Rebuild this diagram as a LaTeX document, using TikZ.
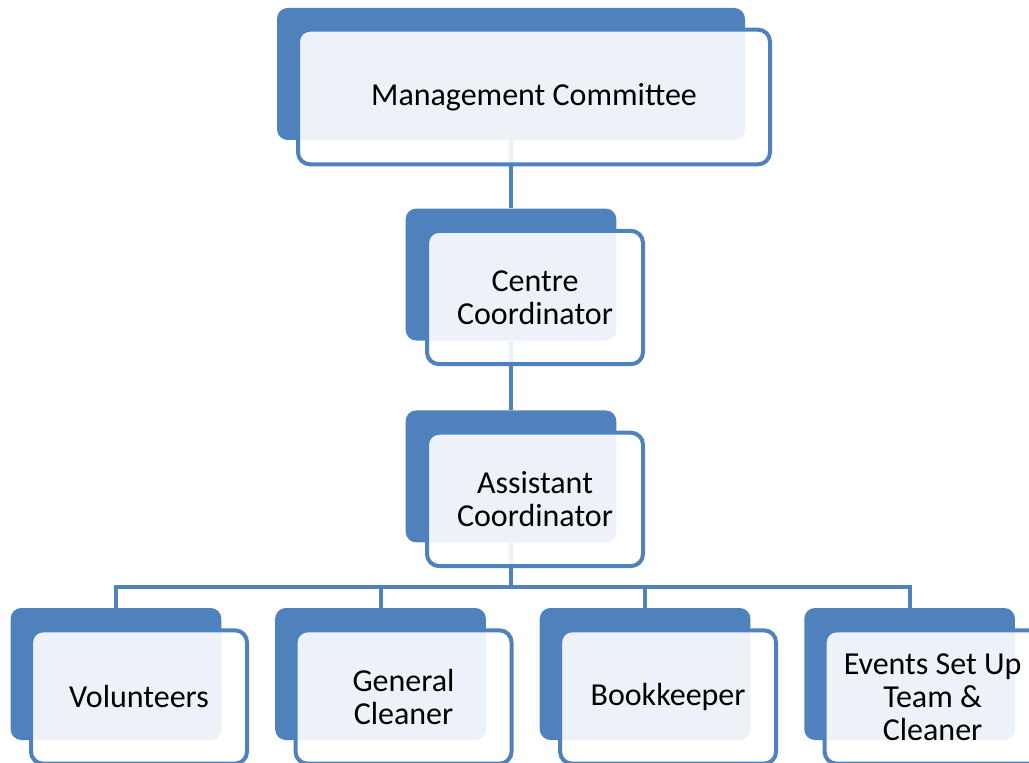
\documentclass[tikz,border=0pt]{standalone}
\usepackage{fontspec}
\setmainfont{Carlito}
\usetikzlibrary{positioning,backgrounds}
\definecolor{boxblue}{HTML}{4F81BD}

\begin{document}
\begin{tikzpicture}[x=0.75pt,y=-0.75pt,node distance=51pt and 40pt,
        back box/.style={rectangle,rounded corners=8pt,fill=boxblue,
            minimum width=158pt,minimum height=99pt,inner sep=0pt},
        front box/.style={rectangle,rounded corners=9pt,draw=boxblue,line width=3pt,
            fill=white,fill opacity=0.9,text opacity=1,minimum width=162pt,
            minimum height=100pt,align=center,inner sep=0pt,
            font=\fontsize{24}{24.75}\selectfont},
        link/.style={draw=boxblue,line width=3pt}]

        \useasboundingbox (0,0) rectangle (1029,763);

        % Back boxes
        \node[back box,minimum width=351pt] (mcb) at (511,74) {};
        \node[back box] (ccb) [below=of mcb] {};
        \node[back box] (acb) [below=52pt of ccb] {};
        \node[back box] (vb) at (116,674) {};
        \node[back box] (gb) [right=of vb] {};
        \node[back box] (bb) [right=of gb] {};
        \node[back box] (eb) [right=of bb] {};
        \coordinate[below=33pt of acb.south] (bus);

        % Front boxes
        \node[front box,minimum width=354pt,minimum height=101pt] (mcf)
            at ([shift={(23,23)}]mcb) {Management Committee};
        \node[front box] (ccf) at ([shift={(24,23)}]ccb) {Centre\\Coordinator};
        \node[front box] (acf) at ([shift={(24,23)}]acb) {Assistant\\Coordinator};
        \node[front box] (vf) at ([shift={(23,23)}]vb) {Volunteers};
        \node[front box] (gf) at ([shift={(23,23)}]gb) {General\\Cleaner};
        \node[front box] (bf) at ([shift={(23,23)}]bb) {Bookkeeper};
        \node[front box] (ef) at ([shift={(23,23)}]eb) {Events Set Up\\Team \&\\Cleaner};

        % Draw links
        \begin{scope}[on background layer]
            \path[link] (mcb) -- (ccb);
            \path[link] (ccb) -- (acb);
            \path[link] (acb.south) -- (bus);
            \foreach \n in {vb,gb,bb,eb}
                \path[link] (bus) -| (\n.north);
        \end{scope}

        \end{tikzpicture}
\end{document}
